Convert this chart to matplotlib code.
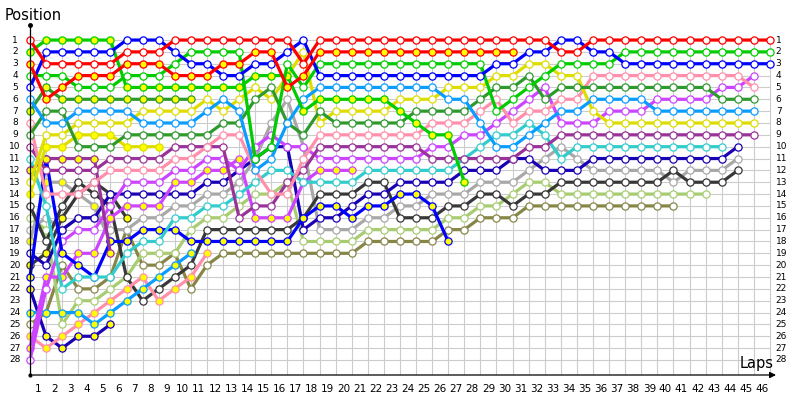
import numpy as np
import matplotlib
matplotlib.use("Agg")
import matplotlib.pyplot as plt

# lap-by-lap positions (index = lap, starting at lap 0 = grid)
red_w = [1,3,3,3,3,3,2,2,2,1,1,1,1,1,1,1,1,3] + [1]*15 + [2,2] + [1]*12
blue_w = [5,2,2,2,2,2,1,1,1,2,3,3,4,4,3,3,2,1] + [4]*11 + [3,3,2,2,1,1,2,2] + [3]*10
red_y = [3,6,5,4,4,4,3,3,3,4,4,4,3,3,2,2,5,4] + [2]*13
green_w = [4,4,4,5,5,5,4,4,4,3,2,2,2,2,11,10,3,5] + [3]*11 + [7,6,5,4,3,3,3,3] + [2]*10
green_y = [2,1,1,1,1,1,5,5,5,5,5,5,5,5,4,4,4,7,6,6,6,6,6,7,8,9,9,13]
lblue_w = [6,8,8,7,7,7,7,8,8,8,8,7,6,7,12,11,8,6] + [5]*8 + [6,6,8,10,10,9,8,7,7] + [6]*4 + [7]*7
lblue_y = [24,24,24,24,25,24,23,22,21,20,19]
yellow_w = [13,9,9,8,8,8,8,7,7,7,7,6,7,6,5,6,4,2,8,7,7,7,7,6,6,6,5,5,5,4,4,3,3,4,4,7] + [8]*10
yellow_y = [14,10,10,9,9,9,10,10,10]
dgreen_w = [9,7,7,10,10,10,9,9,9,9,9,9,8,8,6,5,8,9,7,8,8,8,8,8,7,7,7,7,6,5,5,4,6] + [5]*10 + [6]*3
dgreen_y = [7,5,6,6,6,6,6,6,6,6,6]
pink_w = [8,14,14,14,13,12,12,12,12,11,11,10,9,9,12,14,14,11] + [9]*7 + [8,8,8,7,6,8,7,7,6,6] + [4]*10 + [5]
pink_y = [26,27,26,25,24,23,22,21,23,22,21,19]
purple_w = [10,12,12,12,12,11,11,11,11,10,10,10,10,16,15,15,13,12] + [10]*7 + [11]*6 + [10,10] + [9]*13
purple_y = [12,11,11,11,11,19]
cyan_w = [11,15,22,21,21,21,19,18,18,16,16,15,15,14,13,12,12,13,13,13,13] + [12]*6 + [11,10,9,9,8,9,11] + [10]*10
violet_w = [28,22,18,17,17,15,13,13,13,12,12,11,11,12,10,9,10,10] + [11]*7 + [10,10,9,9,8,7,6,5] + [8,8,8,7,7,7,6,6,6,6,5,5,4]
violet_y = [27,21,21,19,19,16,15,15,15,13,13,12,12,11,16,16,16,13,12,12,12]
black_w = [15,18,15,13,14,15,21,23,22,21,20] + [17]*6 + [16,14,14,14,13,13,16,16,16,15,15,14,14,15,14,14] + [13]*7 + [12,13,13,13,12]
black_y = [20,19,16,14,13,14,16]
gray_w = [17,16,17,16,16,17,17,16,16,15,15,14,14,13,11,8,6,10,17,17,17,16,16,15,15,14,14,14,13,13,13,12,11,10,11,12,12,12,12,12,13,12,12,12,11]
gray_y = [18,13,13,14,15,18]
navy_w = [19,20,17,16,16,14,14,14,14,14,14,13,13,12,11,10,10,17,16,16,15,14,14,13,13,13,13,12,12,12,11,11,12,12,12] + [11]*9 + [10]
navy_y = [22,26,27,26,26,25]
blue_y = [21,11,19,20,21,18,18,17,17,17,18,18,18,18,18,18,18,16,15,15,16,15,15,14,14,15,18]
lgreen_w = [16,17,25,23,23,22,21,19,19,19,17,16,16,15,14,14,13,18,18,18,18] + [17]*5 + [16,16,15,15,14,13,13] + [14]*10
olive_w = [25,24,20,22,22,21,17,20,20,19,22,20] + [19]*9 + [18]*5 + [17,17,16,16,16] + [15]*10

# (positions, line colour, marker fill)
drivers = [
    (olive_w, '#868648', 'w'), (lgreen_w, '#a8cc72', 'w'), (gray_w, '#a8a8a8', 'w'),
    (gray_y, '#a8a8a8', 'y'), (black_w, '#383838', 'w'), (black_y, '#383838', 'y'),
    (navy_y, '#1a00b4', 'y'), (navy_w, '#1a00b4', 'w'), (pink_y, '#ff8fab', 'y'),
    (lblue_y, '#0a9cff', 'y'), (violet_y, '#cc44ff', 'y'), (violet_w, '#cc44ff', 'w'),
    (blue_y, '#0000ff', 'y'), (cyan_w, '#33cccc', 'w'), (purple_y, '#993399', 'y'),
    (purple_w, '#993399', 'w'), (pink_w, '#ff8fab', 'w'), (yellow_y, '#dddd00', 'y'),
    (yellow_w, '#dddd00', 'w'), (dgreen_y, '#2e9a2e', 'y'), (dgreen_w, '#2e9a2e', 'w'),
    (lblue_w, '#0a9cff', 'w'), (green_y, '#00cc00', 'y'), (green_w, '#00cc00', 'w'),
    (blue_w, '#0000ff', 'w'), (red_y, '#ff0000', 'y'), (red_w, '#ff0000', 'w'),
]

n_laps = 46
n_pos = 28
y_top, y_bot = -0.27, 29.27

fig = plt.figure(figsize=(8, 4), dpi=100)
ax = fig.add_axes([30/800, 25/400, 748/800, 350/400])
ax.set_xlim(0, 46.5)
ax.set_ylim(y_bot, y_top)
ax.axis('off')

# grid
ax.vlines(range(0, n_laps + 1), 1, y_bot, color='#cccccc', lw=0.8, zorder=0)
ax.hlines(range(1, n_pos + 1), 0, n_laps, color='#cccccc', lw=0.8, zorder=0)

for pos, col, fill in drivers:
    laps = np.arange(len(pos))
    ax.plot(laps, pos, color=col, lw=2.3, zorder=2, solid_capstyle='round',
            marker='o', ms=5.2, mew=0.9, mec=col,
            mfc='#ffff00' if fill == 'y' else 'white', clip_on=False)

# axes with arrows
ax.plot([0, 0], [y_top, y_bot], color='black', lw=0.9, zorder=3, clip_on=False)
ax.plot([0], [y_top], 'o', color='black', ms=2.5, clip_on=False, zorder=3)
ax.plot([0], [y_bot], 'o', color='black', ms=2.0, clip_on=False, zorder=3)
ax.annotate('', xy=(46.55, y_bot), xytext=(0, y_bot),
            arrowprops=dict(arrowstyle='-|>', color='black', lw=0.9, mutation_scale=9),
            annotation_clip=False)

# tick labels
for p in range(1, n_pos + 1):
    ax.text(-0.93, p, str(p), ha='center', va='center', fontsize=6.5, clip_on=False)
    ax.text(46.36, p, str(p), ha='left', va='center', fontsize=6.5, clip_on=False)
for lap in range(1, n_laps + 1):
    ax.text(lap - 0.5, 30.45, str(lap), ha='center', va='center', fontsize=7.5, clip_on=False)

ax.text(-1.6, -1.1, 'Position', ha='left', va='center', fontsize=10.5, clip_on=False)
ax.text(46.2, 28.3, 'Laps', ha='right', va='center', fontsize=10.5, clip_on=False)

fig.savefig('out.png', dpi=100)
